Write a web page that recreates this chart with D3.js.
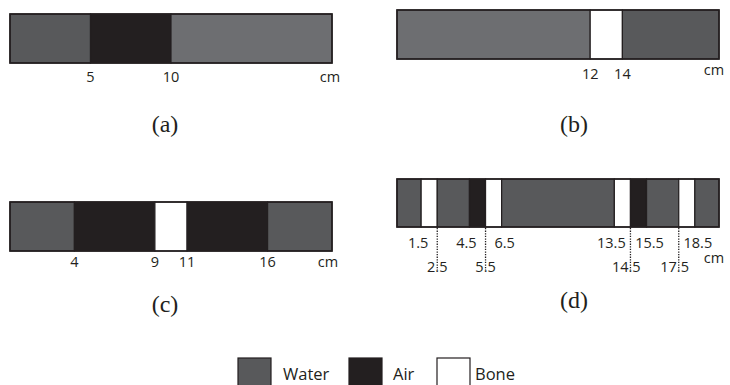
<!DOCTYPE html>
<html><head><meta charset="utf-8">
<script src="https://cdn.jsdelivr.net/npm/d3@7"></script>
<style>
html,body{margin:0;padding:0;background:#fff;}
svg{display:block;}
.tick{font-family:"Open Sans",sans-serif;font-size:14.5px;fill:#231f20;}
.cap{font-family:"Liberation Serif",serif;font-size:24px;fill:#231f20;}
.leg{font-family:"Open Sans",sans-serif;font-size:16.5px;fill:#231f20;}
</style>
</head><body>
<svg id="c" width="730" height="385"></svg>
<script>
// ---- data ----
const domainCm = [0, 20];
const legendItems = ["Water", "Air", "Bone"];
const boundsA = [0, 5, 10, 20];
const matsA = ["Water", "Air", "WaterLight"];
const ticksA = [5, 10];
const boundsB = [0, 12, 14, 20];
const matsB = ["WaterLight", "Bone", "Water"];
const ticksB = [12, 14];
const boundsC = [0, 4, 9, 11, 16, 20];
const matsC = ["Water", "Air", "Bone", "Air", "Water"];
const ticksC = [4, 9, 11, 16];
const boundsD = [0, 1.5, 2.5, 4.5, 5.5, 6.5, 13.5, 14.5, 15.5, 17.5, 18.5, 20];
const matsD = ["Water", "Bone", "Water", "Air", "Bone", "Water", "Bone", "Air", "Water", "Bone", "Water"];
const ticksD1 = [1.5, 4.5, 6.5, 13.5, 15.5, 18.5];
const ticksD2 = [2.5, 5.5, 14.5, 17.5];
const captions = ["(a)", "(b)", "(c)", "(d)"];
const unitLabel = "cm";

// ---- styles ----
const color = d3.scaleOrdinal()
  .domain(["Water", "Air", "Bone", "WaterLight"])
  .range(["#58595b", "#231f20", "#ffffff", "#6d6e71"]);
const ink = "#231f20";

const svg = d3.select("#c");

function drawPanel(cfg) {
  const x = d3.scaleLinear().domain(domainCm).range([cfg.x0, cfg.x1]);
  const g = svg.append("g");
  const segs = cfg.mats.map((m, i) => ({m, a: cfg.bounds[i], b: cfg.bounds[i + 1]}));
  g.selectAll("rect.seg").data(segs).enter().append("rect")
    .attr("class", "seg")
    .attr("x", d => x(d.a)).attr("width", d => x(d.b) - x(d.a))
    .attr("y", cfg.y0).attr("height", cfg.y1 - cfg.y0)
    .attr("fill", d => color(d.m))
    .attr("stroke", ink).attr("stroke-width", 1.2);
  g.append("rect")
    .attr("x", x(domainCm[0])).attr("width", x(domainCm[1]) - x(domainCm[0]))
    .attr("y", cfg.y0).attr("height", cfg.y1 - cfg.y0)
    .attr("fill", "none").attr("stroke", ink).attr("stroke-width", 1.6);

  const row2 = cfg.ticks2 || [];
  g.selectAll("text.t1").data(cfg.ticks).enter().append("text")
    .attr("class", "tick")
    .attr("text-anchor", "middle")
    .attr("x", v => {
      let dx = 0;
      if (row2.length) {
        const near = row2.reduce((p, c) => Math.abs(c - v) < Math.abs(p - v) ? c : p);
        dx = near > v ? -3 : 3;
      }
      return x(v) + dx;
    })
    .attr("y", cfg.tickY)
    .text(v => String(v));

  if (row2.length) {
    g.selectAll("line.lead").data(row2).enter().append("line")
      .attr("x1", v => x(v)).attr("x2", v => x(v))
      .attr("y1", cfg.y1 + 1).attr("y2", cfg.tick2Y - 2)
      .attr("stroke", ink).attr("stroke-width", 1.3)
      .attr("stroke-dasharray", "1.3,1.3");
    const t2 = g.selectAll("text.t2").data(row2).enter().append("text")
      .attr("class", "tick")
      .attr("y", cfg.tick2Y)
      .text(v => String(v));
    t2.each(function(v) {
      const s = String(v);
      const el = d3.select(this);
      const intPart = s.split(".")[0];
      el.text(intPart);
      const wInt = this.getComputedTextLength();
      el.text(intPart + ".");
      const wDot = this.getComputedTextLength() - wInt;
      el.text(s);
      el.attr("x", x(v) - wInt - wDot / 2);
    });
  }

  g.append("text").attr("class", "tick").attr("text-anchor", "middle")
    .attr("x", cfg.cmX).attr("y", cfg.cmY).text(unitLabel);
  g.append("text").attr("class", "cap").attr("text-anchor", "middle")
    .attr("x", cfg.capX).attr("y", cfg.capY).text(cfg.caption);
}

drawPanel({bounds: boundsA, mats: matsA, ticks: ticksA, x0: 10, x1: 332, y0: 14, y1: 63,
  tickY: 82, cmX: 330, cmY: 82, capX: 165, capY: 132, caption: captions[0]});
drawPanel({bounds: boundsB, mats: matsB, ticks: ticksB, x0: 397, x1: 719, y0: 10, y1: 59,
  tickY: 79, cmX: 714, cmY: 75, capX: 574, capY: 132, caption: captions[1]});
drawPanel({bounds: boundsC, mats: matsC, ticks: ticksC, x0: 10, x1: 332, y0: 202, y1: 251,
  tickY: 267, cmX: 328, cmY: 267, capX: 165, capY: 312, caption: captions[2]});
drawPanel({bounds: boundsD, mats: matsD, ticks: ticksD1, ticks2: ticksD2, x0: 397, x1: 719, y0: 179, y1: 227,
  tickY: 248, tick2Y: 272, cmX: 714, cmY: 263, capX: 574, capY: 308, caption: captions[3]});

// ---- legend ----
const legPos = {Water: 238, Air: 349, Bone: 437};
const legTextDx = {Water: 45, Air: 44, Bone: 38};
const lg = svg.append("g");
const li = lg.selectAll("g.li").data(legendItems).enter().append("g")
  .attr("transform", d => `translate(${legPos[d]},358)`);
li.append("rect").attr("width", 33).attr("height", 33)
  .attr("fill", d => color(d)).attr("stroke", ink).attr("stroke-width", 1.2);
li.append("text").attr("class", "leg").attr("x", d => legTextDx[d]).attr("y", 22)
  .text(d => d);
</script>
</body></html>
